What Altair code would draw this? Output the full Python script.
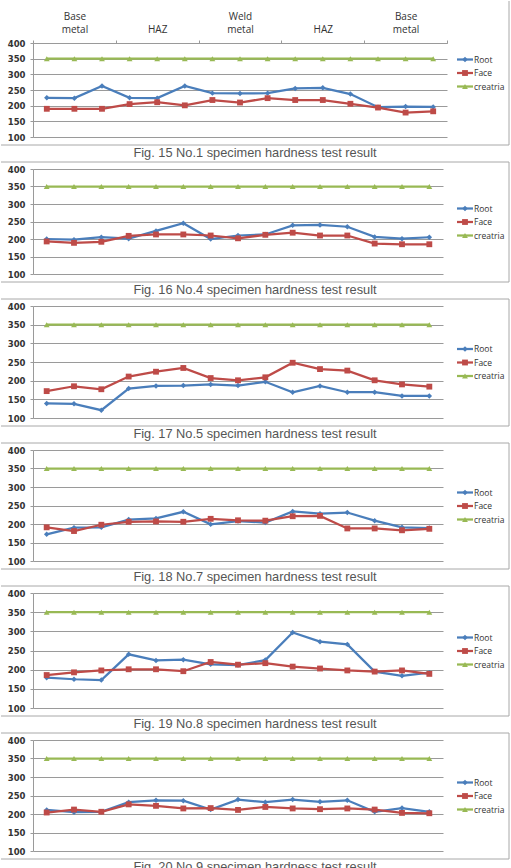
import json
import altair as alt
import pandas as pd

# Measurement points along the weld cross-section
positions = list(range(1, 16))
series_names = ["Root", "Face", "creatria"]
zone_labels = ["Base metal", "HAZ", "Weld metal", "HAZ", "Base metal"]
y_ticks = [100, 150, 200, 250, 300, 350, 400]

# Acceptance criterion (Hv)
creatria = [350, 350, 350, 350, 350, 350, 350, 350, 350, 350, 350, 350, 350, 350, 350]

# No.1 specimen
root_1 = [225, 224, 263, 225, 224, 263, 240, 239, 240, 255, 257, 237, 195, 197, 196]
face_1 = [190, 190, 190, 205, 211, 201, 218, 210, 224, 218, 218, 206, 194, 178, 182]
# No.4 specimen
root_4 = [200, 198, 205, 201, 223, 245, 200, 210, 213, 239, 240, 235, 206, 201, 205]
face_4 = [193, 189, 192, 209, 213, 213, 210, 202, 212, 218, 210, 210, 187, 185, 185]
# No.5 specimen
root_5 = [139, 138, 121, 179, 186, 187, 190, 187, 197, 169, 186, 169, 169, 159, 159]
face_5 = [172, 185, 177, 211, 224, 234, 207, 201, 209, 248, 231, 227, 201, 190, 184]
# No.7 specimen
root_7 = [172, 190, 191, 212, 215, 233, 199, 208, 204, 234, 228, 231, 209, 191, 189]
face_7 = [191, 181, 198, 206, 207, 206, 214, 210, 209, 221, 222, 188, 188, 183, 187]
# No.8 specimen
root_8 = [179, 175, 173, 240, 224, 226, 214, 212, 225, 297, 273, 266, 195, 184, 192]
face_8 = [186, 193, 198, 201, 201, 196, 220, 213, 217, 208, 203, 198, 195, 198, 189]
# No.9 specimen
root_9 = [211, 205, 206, 232, 237, 236, 212, 239, 232, 239, 233, 237, 206, 216, 206]
face_9 = [204, 212, 206, 226, 222, 215, 216, 211, 219, 215, 213, 215, 212, 203, 202]

fig_numbers = [15, 16, 17, 18, 19, 20]
specimen_numbers = [1, 4, 5, 7, 8, 9]

colors = {"Root": "#4A7EBB", "Face": "#BE4B48", "creatria": "#98B954"}
shapes = {"Root": "diamond", "Face": "square", "creatria": "triangle-up"}
sizes = {"Root": 30, "Face": 34, "creatria": 34}

GRID = "#9a9a9a"
BORDER = "#a8a8a8"
one_row = pd.DataFrame({"k": [0]})


def panel(root, face, width, height, fig_no, spec_no, header=False):
    rows = []
    for name, vals in zip(series_names, [root, face, creatria]):
        for p, v in zip(positions, vals):
            rows.append({"pos": p, "series": name, "hv": v})
    df = pd.DataFrame(rows)

    x = alt.X("pos:O", axis=None)
    y = alt.Y(
        "hv:Q",
        scale=alt.Scale(domain=[100, 400], nice=False, zero=False),
        axis=alt.Axis(
            values=y_ticks, title=None, grid=True, gridColor=GRID, gridWidth=1,
            domainColor=GRID, tickColor=GRID, tickSize=3, labelPadding=5,
            labelFont="DejaVu Sans", labelFontSize=8.5, labelFontWeight="bold",
            labelColor="#333333",
        ),
    )

    data_layers = []
    for name in series_names:
        sub = alt.Chart(df).transform_filter(alt.datum.series == name)
        data_layers.append(
            sub.mark_line(color=colors[name], strokeWidth=2.25).encode(x=x, y=y)
        )
        data_layers.append(
            sub.mark_point(filled=True, opacity=1, shape=shapes[name],
                           size=sizes[name], color=colors[name]).encode(x=x, y=y)
        )
    plot = alt.layer(*data_layers)

    top = -42 if header else -7
    bottom = height + 8
    deco = [
        alt.Chart(one_row).mark_rule(color=BORDER, strokeWidth=1).encode(
            x=alt.value(476), y=alt.value(top), y2=alt.value(bottom)),
        alt.Chart(one_row).mark_rule(color=BORDER, strokeWidth=1).encode(
            x=alt.value(-32), x2=alt.value(476), y=alt.value(bottom)),
    ]
    if not header:
        deco.append(
            alt.Chart(one_row).mark_rule(color=BORDER, strokeWidth=1).encode(
                x=alt.value(-32), x2=alt.value(476), y=alt.value(top))
        )

    # legend, centred on the panel frame
    mid = (top + bottom) / 2.0
    for i, name in enumerate(series_names):
        yl = mid + (i - 1) * 13.5
        deco.append(alt.Chart(one_row).mark_rule(color=colors[name], strokeWidth=2.25).encode(
            x=alt.value(424), x2=alt.value(440), y=alt.value(yl)))
        deco.append(alt.Chart(one_row).mark_point(
            filled=True, opacity=1, shape=shapes[name], size=sizes[name],
            color=colors[name]).encode(x=alt.value(432), y=alt.value(yl)))
        deco.append(alt.Chart(one_row).mark_text(
            align="left", baseline="middle", font="Open Sans", fontSize=8.5,
            color="#333333").encode(x=alt.value(441), y=alt.value(yl), text=alt.value(name)))

    caption = f"Fig. {fig_no} No.{spec_no} specimen hardness test result"
    deco.append(alt.Chart(one_row).mark_text(
        align="center", baseline="alphabetic", font="Liberation Sans", fontSize=12.8,
        color="#555555").encode(x=alt.value(222), y=alt.value(height + 20),
                                text=alt.value(caption)))

    if header:
        zdf = pd.DataFrame({"zone": list(range(1, len(zone_labels) + 1))})
        # two-line zone names; single words sit on the lower line
        lbl = "(" + json.dumps(zone_labels) + "[datum.value - 1] || '')"
        label_expr = (
            f"isValid(datum.value) && datum.value >= 1 && datum.value <= {len(zone_labels)} ? "
            f"(indexof({lbl}, ' ') < 0 ? ['', {lbl}] : split({lbl}, ' ')) : ''"
        )
        head = alt.Chart(zdf).mark_point(opacity=0).encode(
            x=alt.X(
                "zone:O",
                scale=alt.Scale(type="band", paddingInner=0, paddingOuter=0),
                axis=alt.Axis(
                    orient="top", title=None, labelAngle=0, labelExpr=label_expr,
                    tickBand="extent", tickSize=3, tickColor=GRID, domainColor=GRID,
                    labelFont="Open Sans", labelFontSize=10, labelColor="#333333",
                    labelLineHeight=12.5, labelPadding=20.5, labelBaseline="alphabetic",
                ),
            ),
            y=alt.value(0),
        )
        body = alt.layer(plot, head).resolve_scale(x="independent")
        return alt.layer(body, *deco).properties(width=width, height=height)

    return alt.layer(plot, *deco).properties(width=width, height=height)


roots = [root_1, root_4, root_5, root_7, root_8, root_9]
faces = [face_1, face_4, face_5, face_7, face_8, face_9]
widths = [414, 410, 410, 410, 410, 410]
heights = [94, 105, 112, 111, 115, 111]

panels = [
    panel(r, f, w, h, fn, sn, header=(i == 0))
    for i, (r, f, w, h, fn, sn) in enumerate(
        zip(roots, faces, widths, heights, fig_numbers, specimen_numbers))
]

chart = alt.vconcat(*panels, spacing=32, bounds="flush").properties(
    padding=0, background="white"
).configure_view(stroke=None)

chart.save("out.html", embed_options={"renderer": "svg", "actions": False})
